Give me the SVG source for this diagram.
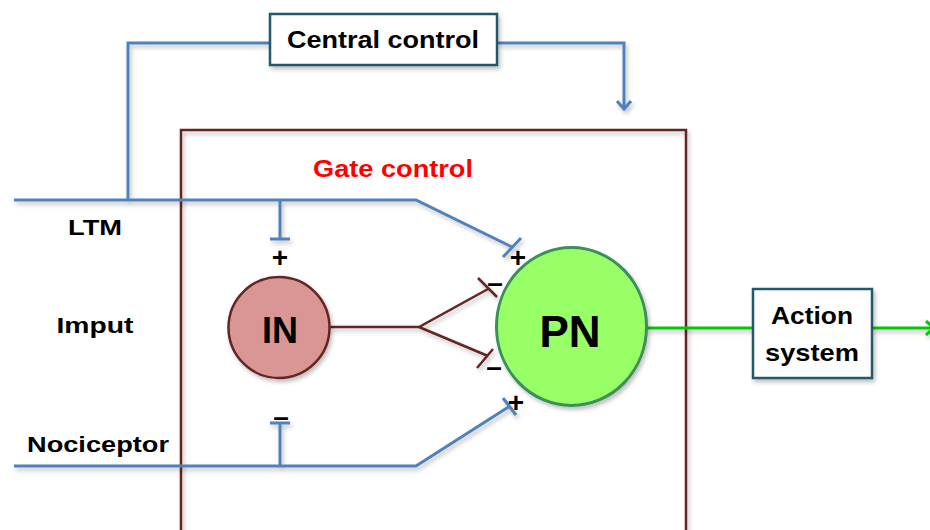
<svg xmlns="http://www.w3.org/2000/svg" width="930" height="530" viewBox="0 0 930 530">
  <style>
    .lbl { font-family: "Liberation Sans", Arial, sans-serif; font-weight: bold; fill: #000; text-anchor: middle; }
    .sign { font-family: "Liberation Sans", Arial, sans-serif; font-weight: bold; fill: #000; text-anchor: middle; font-size: 28px; }
    .blue { fill: none; stroke: #4f81bd; stroke-width: 3; stroke-linejoin: miter; }
    .red { fill: none; stroke: #632523; stroke-width: 2.5; }
    .green { fill: none; stroke: #00cc00; stroke-width: 3; }
    .box { fill: #fff; stroke: #215968; stroke-width: 2.5; }
  </style>
  <defs>
    <filter id="shadow" x="-10%" y="-10%" width="130%" height="130%">
      <feDropShadow dx="2" dy="3" stdDeviation="2" flood-color="#000" flood-opacity="0.25"/>
    </filter>
    <marker id="blueArrow" viewBox="0 0 16 16" refX="14" refY="8" markerWidth="16" markerHeight="16" markerUnits="userSpaceOnUse" orient="auto">
      <path d="M6,1 L14,8 L6,15" fill="none" stroke="#4f81bd" stroke-width="3"/>
    </marker>
    <marker id="greenArrow" viewBox="0 0 16 16" refX="14" refY="8" markerWidth="16" markerHeight="16" markerUnits="userSpaceOnUse" orient="auto">
      <path d="M6,1 L14,8 L6,15" fill="none" stroke="#00cc00" stroke-width="3"/>
    </marker>
  </defs>

  <rect width="930" height="530" fill="#fff"/>

  <!-- gate control frame -->
  <g id="gate-control">
    <rect x="181" y="130" width="505" height="420" fill="none" stroke="#632523" stroke-width="2.5" filter="url(#shadow)"/>
    <text class="lbl" x="393" y="177" font-size="24" style="fill:#ff0000" textLength="160" lengthAdjust="spacingAndGlyphs">Gate control</text>
  </g>

  <!-- connectors -->
  <g id="connectors" filter="url(#shadow)">
    <!-- central control loop -->
    <polyline class="blue" points="128,200 128,43 270,43"/>
    <polyline class="blue" points="497,43 624,43 624,109" marker-end="url(#blueArrow)"/>

    <!-- LTM fibre -->
    <polyline class="blue" points="14,200 416,200 512,247"/>
    <line class="blue" x1="521" y1="238" x2="503" y2="257"/>
    <line class="blue" x1="280" y1="200" x2="280" y2="239"/>
    <line class="blue" x1="270" y1="239" x2="290" y2="239"/>

    <!-- nociceptor fibre -->
    <polyline class="blue" points="14,466 416,466 510,406"/>
    <line class="blue" x1="503" y1="398" x2="516" y2="415"/>
    <line class="blue" x1="280" y1="466" x2="280" y2="423"/>
    <line class="blue" x1="270" y1="423" x2="290" y2="423"/>

    <!-- IN inhibitory fork -->
    <polyline class="red" points="330,327 419,327 488,289"/>
    <polyline class="red" points="419,327 488,356"/>
    <line class="red" x1="478" y1="278" x2="497" y2="297"/>
    <line class="red" x1="477" y1="368" x2="493" y2="349"/>

    <!-- output -->
    <line class="green" x1="647" y1="328" x2="753" y2="328"/>
    <line class="green" x1="872" y1="328" x2="934" y2="328" marker-end="url(#greenArrow)"/>
  </g>

  <!-- synapse signs -->
  <g id="signs">
    <text class="sign" x="280" y="267">+</text>
    <text class="sign" x="518" y="267">+</text>
    <text class="sign" x="516" y="412">+</text>
    <text class="sign" x="281" y="426">–</text>
    <text class="sign" x="495" y="292">–</text>
    <text class="sign" x="494" y="376">–</text>
  </g>

  <g id="central-control">
    <rect class="box" x="270" y="14" width="227" height="51" filter="url(#shadow)"/>
    <text class="lbl" x="383" y="48" font-size="24" textLength="192" lengthAdjust="spacingAndGlyphs">Central control</text>
  </g>

  <g id="in-node">
    <circle cx="279" cy="327.5" r="50.5" fill="#d99694" stroke="#632523" stroke-width="2.5" filter="url(#shadow)"/>
    <text class="lbl" x="280" y="343" font-size="36">IN</text>
  </g>

  <g id="pn-node">
    <ellipse cx="571.5" cy="326.5" rx="75" ry="79" fill="#99ff66" stroke="#3a8f5c" stroke-width="3" filter="url(#shadow)"/>
    <text class="lbl" x="570" y="347" font-size="44">PN</text>
  </g>

  <g id="action-system">
    <rect class="box" x="753" y="289" width="119" height="89" filter="url(#shadow)"/>
    <text class="lbl" x="812" y="324" font-size="24" textLength="82" lengthAdjust="spacingAndGlyphs">Action</text>
    <text class="lbl" x="812" y="361" font-size="24" textLength="94" lengthAdjust="spacingAndGlyphs">system</text>
  </g>

  <g id="inputs">
    <text class="lbl" x="95" y="235" font-size="22" textLength="54" lengthAdjust="spacingAndGlyphs">LTM</text>
    <text class="lbl" x="95" y="333" font-size="22" textLength="77" lengthAdjust="spacingAndGlyphs">Imput</text>
    <text class="lbl" x="98" y="452" font-size="22" textLength="142" lengthAdjust="spacingAndGlyphs">Nociceptor</text>
  </g>
</svg>
